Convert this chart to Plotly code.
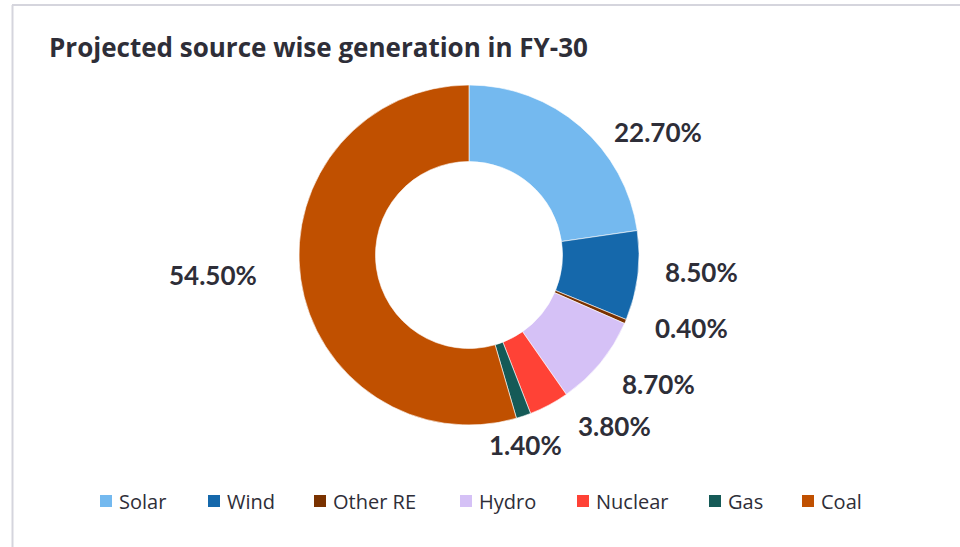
import plotly.graph_objects as go

W, H = 960, 547

# ---- data ----
categories = ["Solar", "Wind", "Other RE", "Hydro", "Nuclear", "Gas", "Coal"]
shares = [22.7, 8.5, 0.4, 8.7, 3.8, 1.4, 54.5]
colors = ["#74B9EF", "#1568AB", "#7A3200", "#D5C1F6", "#FF4236", "#155A57", "#C05000"]
title_text = "Projected source wise generation in FY-30"

# ---- layout (pixel positions) ----
label_px = [(658, 132), (701, 272), (691, 328), (658, 384), (614, 426), (525, 445), (213, 275)]
legend_sq_x = [100, 208, 314, 460, 577, 709, 802]
LEGEND_Y = 501
SQ = 12

TXT = "#2E2E38"


def px(x):
    return x / W


def py(y):
    return 1 - y / H


fig = go.Figure()
fig.add_trace(go.Pie(
    labels=categories,
    values=shares,
    marker=dict(colors=colors, line=dict(color="white", width=0.6)),
    hole=0.55,
    sort=False,
    direction="clockwise",
    rotation=0,
    textinfo="none",
    hoverinfo="label+percent",
    showlegend=False,
    domain=dict(x=[px(299), px(639)], y=[py(425), py(85)]),
))

annotations = []
for (lx, ly), v in zip(label_px, shares):
    annotations.append(dict(
        x=px(lx), y=py(ly), xref="paper", yref="paper",
        text=f"{v:.2f}%", showarrow=False,
        xanchor="center", yanchor="middle",
        font=dict(family="Lato", size=26, color=TXT, weight="bold"),
    ))
annotations.append(dict(
    x=px(47), y=py(47), xref="paper", yref="paper",
    text=f"<b>{title_text}</b>", showarrow=False,
    xanchor="left", yanchor="middle",
    font=dict(family="Open Sans", size=26, color=TXT),
))

shapes = [
    dict(type="line", xref="paper", yref="paper", x0=px(12), x1=1, y0=py(5), y1=py(5),
         line=dict(color="#D5D5DD", width=2)),
    dict(type="line", xref="paper", yref="paper", x0=px(12.5), x1=px(12.5), y0=py(5), y1=0,
         line=dict(color="#D5D5DD", width=2)),
]

# legend: coloured squares + category names
for name, col, sx in zip(categories, colors, legend_sq_x):
    shapes.append(dict(
        type="rect", xref="paper", yref="paper",
        x0=px(sx), x1=px(sx + SQ), y0=py(LEGEND_Y + SQ / 2), y1=py(LEGEND_Y - SQ / 2),
        fillcolor=col, line=dict(width=0),
    ))
    annotations.append(dict(
        x=px(sx + SQ + 5), y=py(LEGEND_Y), xref="paper", yref="paper",
        text=name, showarrow=False, xanchor="left", yanchor="middle",
        font=dict(family="Open Sans", size=20, color=TXT),
    ))

fig.update_layout(
    width=W, height=H,
    margin=dict(l=0, r=0, t=0, b=0),
    paper_bgcolor="white",
    plot_bgcolor="white",
    annotations=annotations,
    shapes=shapes,
    showlegend=False,
)

fig.write_html(
    "out.html",
    config={"displayModeBar": False},
    post_script="document.body.style.margin='0px';",
)
